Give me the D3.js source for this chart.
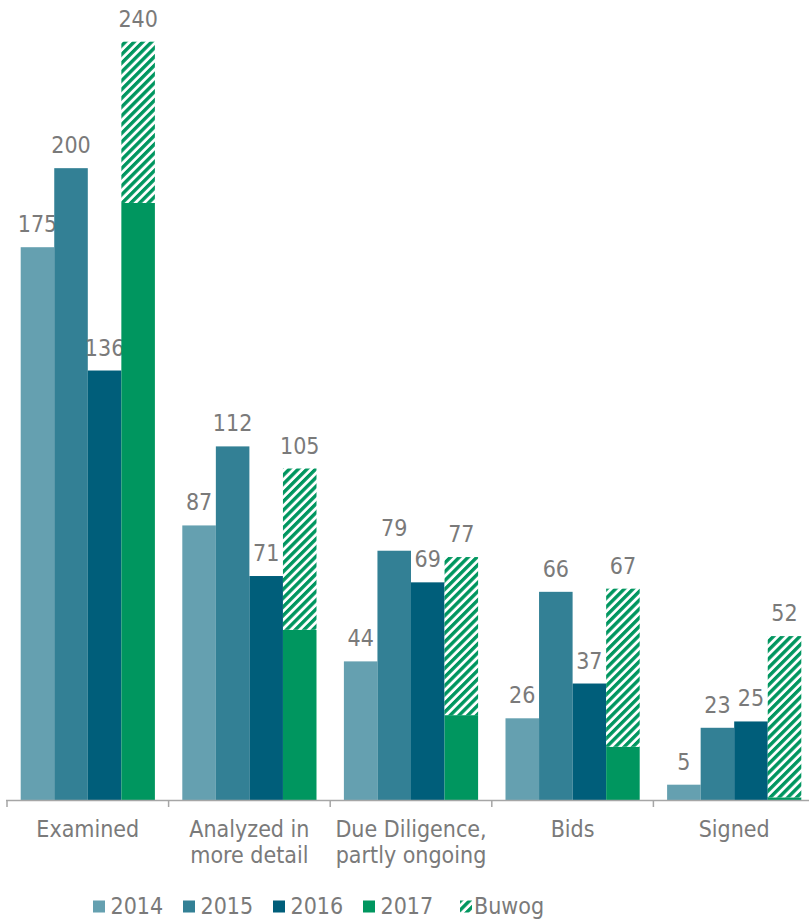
<!DOCTYPE html>
<html>
<head>
    <title>Acquisition pipeline</title>
    <script src="https://d3js.org/d3.v7.min.js"></script>
    <style>
        body {
            margin: 0;
            padding: 0;
            background: #fff;
        }
        svg text {
            fill: #7a7a7a;
            font-family: "DejaVu Sans Condensed", "DejaVu Sans", Verdana, sans-serif;
            font-stretch: condensed;
            font-size: 23px;
        }
    </style>
</head>
<body>
    <div id="chart"></div>

    <script>
        // Chart data
        const categories = [
            ['Examined'],
            ['Analyzed in', 'more detail'],
            ['Due Diligence,', 'partly ongoing'],
            ['Bids'],
            ['Signed']
        ];
        const years = ['2014', '2015', '2016', '2017'];
        const values2014 = [175, 87, 44, 26, 5];
        const values2015 = [200, 112, 79, 66, 23];
        const values2016 = [136, 71, 69, 37, 25];
        const values2017 = [189, 54, 27, 17, 1];
        const valuesBuwog = [51, 51, 50, 50, 51];

        const colors = ['#65a0b0', '#338095', '#005e7a', '#00965f'];
        const series = [values2014, values2015, values2016, values2017];

        const width = 809, height = 920;
        const baseY = 800.5, topY = 41.7;

        const svg = d3.select('#chart')
            .append('svg')
            .attr('width', width)
            .attr('height', height);

        // Hatch pattern for Buwog
        const defs = svg.append('defs');
        const pat = defs.append('pattern')
            .attr('id', 'hatch')
            .attr('patternUnits', 'userSpaceOnUse')
            .attr('width', 6.2)
            .attr('height', 10)
            .attr('patternTransform', 'rotate(45)');
        pat.append('rect').attr('width', 6.2).attr('height', 10).attr('fill', '#fff');
        pat.append('rect').attr('width', 3.4).attr('height', 10).attr('fill', '#00965f');

        // Scales
        const x0 = d3.scaleBand()
            .domain(d3.range(categories.length))
            .range([7, 815]);

        const x1 = d3.scaleBand()
            .domain(years)
            .range([13.7, x0.bandwidth() - 13.7]);

        const y = d3.scaleLinear()
            .domain([0, 240])
            .range([baseY, topY]);

        // Bars
        const groups = svg.selectAll('g.group')
            .data(categories)
            .enter()
            .append('g')
            .attr('class', 'group')
            .attr('transform', (d, i) => `translate(${x0(i)},0)`);

        groups.each(function(cat, i) {
            const g = d3.select(this);
            years.forEach((yr, k) => {
                const v = series[k][i];
                g.append('rect')
                    .attr('x', x1(yr))
                    .attr('y', y(v))
                    .attr('width', x1.bandwidth())
                    .attr('height', baseY - y(v))
                    .attr('fill', colors[k]);
                if (k < 3) {
                    g.append('text')
                        .attr('x', x1(yr) + x1.bandwidth() / 2)
                        .attr('y', y(v) - 15)
                        .attr('text-anchor', 'middle')
                        .text(v);
                }
            });
            // Buwog stacked on 2017
            const base = values2017[i];
            const total = base + valuesBuwog[i];
            g.append('rect')
                .attr('x', x1('2017'))
                .attr('y', y(total))
                .attr('width', x1.bandwidth())
                .attr('height', y(base) - y(total))
                .attr('fill', 'url(#hatch)');
            g.append('text')
                .attr('x', x1('2017') + x1.bandwidth() / 2)
                .attr('y', y(total) - 15)
                .attr('text-anchor', 'middle')
                .text(total);

            // Category labels
            cat.forEach((line, j) => {
                g.append('text')
                    .attr('x', x0.bandwidth() / 2)
                    .attr('y', 837 + j * 26)
                    .attr('text-anchor', 'middle')
                    .text(line);
            });
        });

        // Axis line and ticks
        svg.append('line')
            .attr('x1', x0(0) - 1).attr('x2', width)
            .attr('y1', baseY).attr('y2', baseY)
            .attr('stroke', '#a6a6a6')
            .attr('stroke-width', 1.5);
        svg.selectAll('line.tick')
            .data(d3.range(categories.length))
            .enter()
            .append('line')
            .attr('class', 'tick')
            .attr('x1', d => x0(d)).attr('x2', d => x0(d))
            .attr('y1', baseY).attr('y2', baseY + 6.5)
            .attr('stroke', '#a6a6a6')
            .attr('stroke-width', 1.5);

        // Legend
        const legendItems = [
            { label: '2014', fill: colors[0] },
            { label: '2015', fill: colors[1] },
            { label: '2016', fill: colors[2] },
            { label: '2017', fill: colors[3] },
            { label: 'Buwog', fill: 'url(#hatch)' }
        ];
        const legendX = [93, 183, 273, 363, 460];
        const legend = svg.append('g');
        legendItems.forEach((item, i) => {
            legend.append('rect')
                .attr('x', legendX[i])
                .attr('y', 900.5)
                .attr('width', 12)
                .attr('height', 12)
                .attr('fill', item.fill);
            legend.append('text')
                .attr('x', legendX[i] + (item.label === 'Buwog' ? 14 : 17.5))
                .attr('y', 914)
                .text(item.label);
        });
    </script>
</body>
</html>
